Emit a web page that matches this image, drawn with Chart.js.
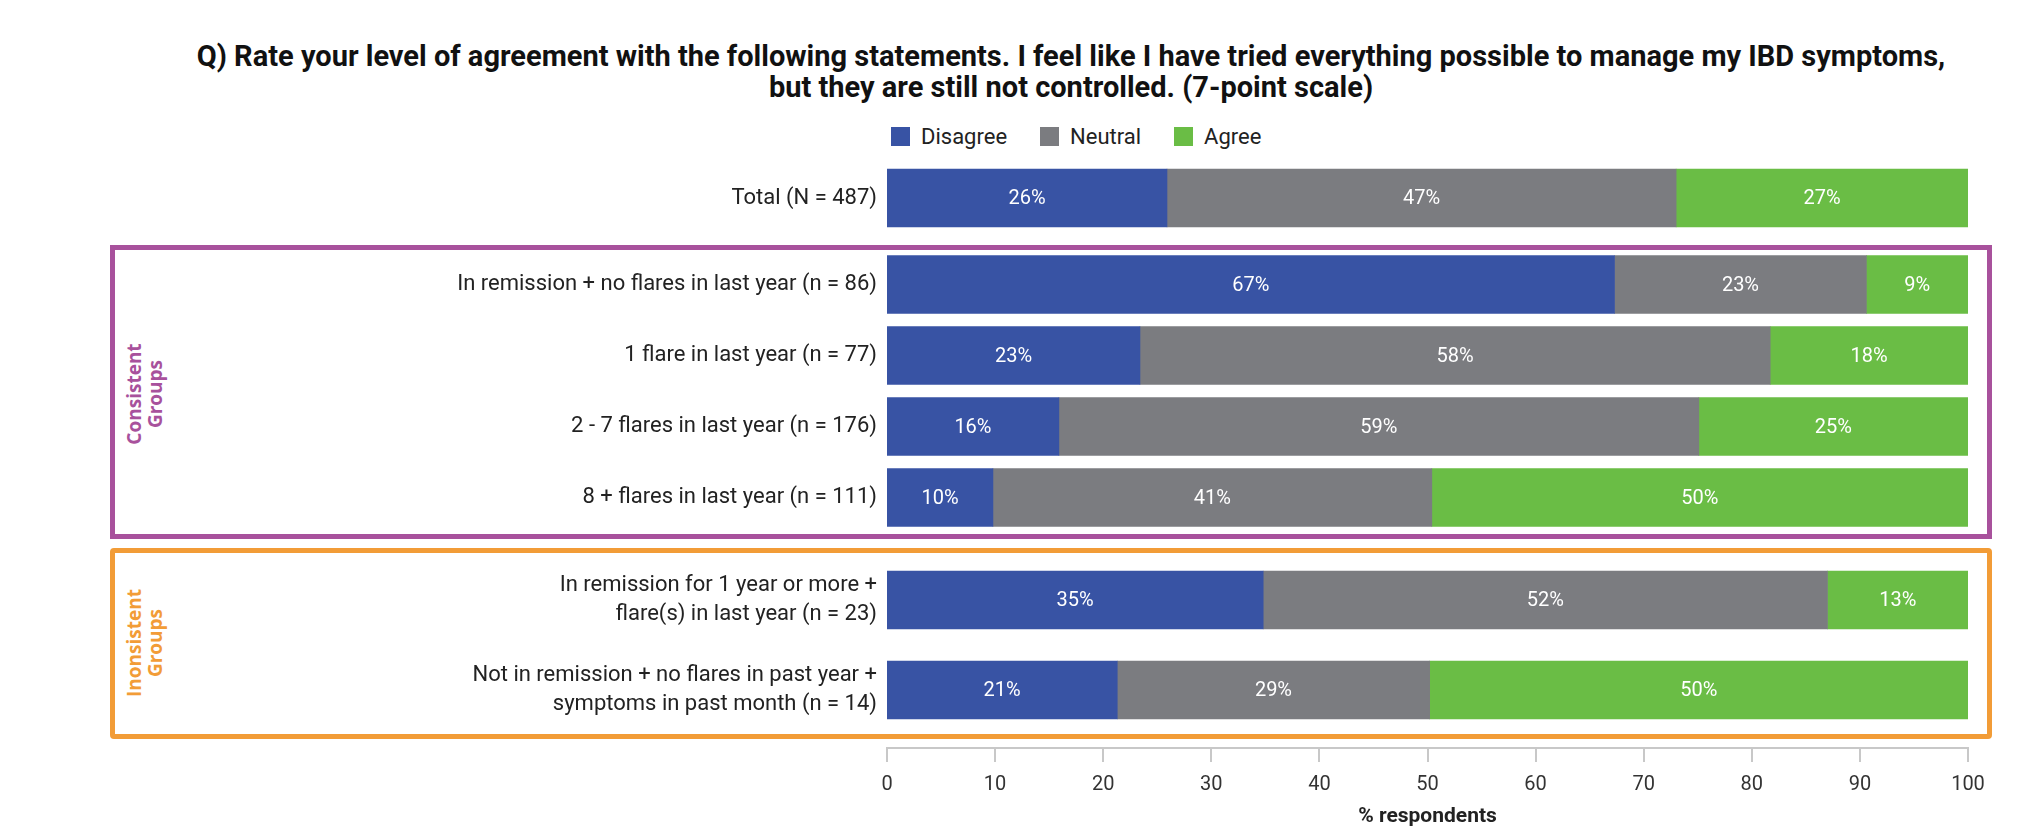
<!DOCTYPE html>
<html>
<head>
<meta charset="utf-8">
<script src="https://cdn.jsdelivr.net/npm/chart.js@4"></script>
<style>
  body { margin: 0; background: #fff; font-family: Roboto, sans-serif; }
  #page { position: relative; width: 2027px; height: 830px; overflow: hidden; }
  canvas { position: absolute; left: 0; }
  .title {
    position: absolute; left: 115px; width: 1912px; top: 41px;
    text-align: center; font-weight: 700; font-size: 29px; line-height: 31px; color: #111;
  }
  .legend { position: absolute; left: 891px; top: 124px; display: flex; font-size: 22px; color: #222; }
  .legend span { display: flex; align-items: center; margin-right: 33px; }
  .legend i { display: inline-block; width: 19px; height: 19px; margin-right: 11px; }
  .box { position: absolute; left: 110px; width: 1872px; border: 5px solid; box-sizing: content-box; }
  .group {
    position: absolute; width: 200px; height: 44px; text-align: center;
    font-family: "Open Sans", sans-serif; font-weight: 700; font-size: 19px; line-height: 21px;
    transform: rotate(-90deg);
  }
</style>
</head>
<body>
<div id="page">
  <div class="title">Q) Rate your level of agreement with the following statements. I feel like I have tried everything possible to manage my IBD symptoms,<br>but they are still not controlled. (7-point scale)</div>
  <div class="legend" id="legend"></div>
  <div class="box" style="top:245px;height:284px;border-color:#a8519c;"></div>
  <div class="box" style="top:548px;height:181px;border-color:#f29c37;border-radius:4px;"></div>
  <div class="group" style="left:46px;top:372px;color:#a8519c;">Consistent<br>Groups</div>
  <div class="group" style="left:46px;top:621px;color:#f29c37;">Inonsistent<br>Groups</div>
  <canvas id="totalChart" width="2027" height="80" style="top:158px"></canvas>
  <canvas id="consistentChart" width="2027" height="284" style="top:249px"></canvas>
  <canvas id="inconsistentChart" width="2027" height="180" style="top:555px"></canvas>
  <canvas id="axisChart" width="2027" height="86" style="top:744px"></canvas>
</div>
<script>
const rowLabels = [
  "Total (N = 487)",
  "In remission + no flares in last year (n = 86)",
  "1 flare in last year (n = 77)",
  "2 - 7 flares in last year (n = 176)",
  "8 + flares in last year (n = 111)",
  ["In remission for 1 year or more +", "flare(s) in last year (n = 23)"],
  ["Not in remission + no flares in past year +", "symptoms in past month (n = 14)"],
];
const disagree = [25.9, 67.3, 23.4, 15.9, 9.8, 34.8, 21.3];
const neutral = [47.1, 23.3, 58.3, 59.2, 40.6, 52.2, 28.9];
const agree = [27.0, 9.4, 18.3, 24.9, 49.6, 13.0, 49.8];
const seriesNames = ["Disagree", "Neutral", "Agree"];
const seriesColors = ["#3853a4", "#7b7c80", "#6abd45"];
const xTicks = [0, 10, 20, 30, 40, 50, 60, 70, 80, 90, 100];

const PLOT_LEFT = 887;
const PLOT_RIGHT_PAD = 2027 - 1968;

// html legend
const legendEl = document.getElementById("legend");
seriesNames.forEach((name, i) => {
  const item = document.createElement("span");
  item.innerHTML = `<i style="background:${seriesColors[i]}"></i>${name}`;
  legendEl.appendChild(item);
});

// white % labels in the middle of each segment
const segmentLabels = {
  id: "segmentLabels",
  afterDatasetsDraw(chart) {
    const ctx = chart.ctx;
    ctx.save();
    ctx.fillStyle = "#fff";
    ctx.font = "20px Roboto";
    ctx.textAlign = "center";
    ctx.textBaseline = "middle";
    chart.data.datasets.forEach((ds, i) => {
      chart.getDatasetMeta(i).data.forEach((bar, j) => {
        const x = (bar.x + bar.base) / 2;
        ctx.fillText(Math.round(ds.data[j]) + "%", x, bar.y + 1);
      });
    });
    ctx.restore();
  },
};

function makeBarChart(id, from, to) {
  const datasets = [disagree, neutral, agree].map((values, i) => ({
    label: seriesNames[i],
    data: values.slice(from, to),
    backgroundColor: seriesColors[i],
    barThickness: 58,
  }));
  return new Chart(document.getElementById(id), {
    type: "bar",
    data: { labels: rowLabels.slice(from, to), datasets },
    plugins: [segmentLabels],
    options: {
      indexAxis: "y",
      responsive: false,
      animation: false,
      layout: { padding: { right: PLOT_RIGHT_PAD } },
      plugins: { legend: { display: false }, tooltip: { enabled: false } },
      scales: {
        x: { stacked: true, min: 0, max: 100, display: false },
        y: {
          stacked: true,
          grid: { display: false, drawTicks: false },
          border: { display: false },
          afterFit: (scale) => {
            scale.width = PLOT_LEFT;
            // labels sit inside their rows, so no extra room above/below
            scale.paddingTop = 0;
            scale.paddingBottom = 0;
          },
          ticks: {
            padding: 10,
            color: "#222",
            font: { family: "Roboto", size: 22, lineHeight: 1.35 },
          },
        },
      },
    },
  });
}

makeBarChart("totalChart", 0, 1);
makeBarChart("consistentChart", 1, 5);
makeBarChart("inconsistentChart", 5, 7);

// shared x axis under the boxes
new Chart(document.getElementById("axisChart"), {
  type: "scatter",
  data: { datasets: [] },
  options: {
    responsive: false,
    animation: false,
    layout: { padding: { left: PLOT_LEFT, right: PLOT_RIGHT_PAD } },
    plugins: { legend: { display: false }, tooltip: { enabled: false } },
    scales: {
      y: { display: false },
      x: {
        type: "linear",
        offset: false,
        min: xTicks[0],
        max: xTicks[xTicks.length - 1],
        afterFit: (scale) => { scale.height = 82; },
        afterBuildTicks: (scale) => { scale.ticks = xTicks.map((v) => ({ value: v })); },
        grid: { drawOnChartArea: false, drawTicks: true, tickLength: 14, color: "#c8c8c8", lineWidth: 2 },
        border: { display: true, color: "#c8c8c8", width: 2 },
        ticks: { padding: 11, color: "#333", font: { family: "Roboto", size: 20 } },
        title: {
          display: true,
          text: "% respondents",
          color: "#222",
          font: { family: "Roboto", size: 21, weight: "bold" },
          padding: { top: 0, bottom: 1 },
        },
      },
    },
  },
});
</script>
</body>
</html>
